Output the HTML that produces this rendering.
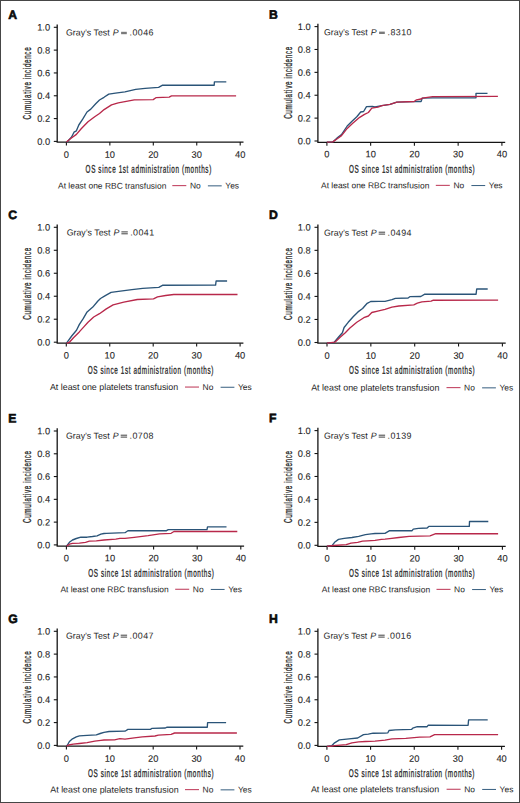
<!DOCTYPE html>
<html><head><meta charset="utf-8"><style>
html,body{margin:0;padding:0;background:#fff;}
body{width:520px;height:803px;overflow:hidden;}
svg{display:block;}
text{font-family:"Liberation Sans",sans-serif;fill:#1f1f1f;}
.let{font-weight:bold;font-size:12.2px;fill:#0a0a0a;stroke:#0a0a0a;stroke-width:0.6px;}
.yl{font-size:9.3px;text-anchor:end;stroke:#1f1f1f;stroke-width:0.1px;}
.xl{font-size:9.3px;text-anchor:middle;stroke:#1f1f1f;stroke-width:0.1px;}
.tt{font-size:11.1px;letter-spacing:1.11px;stroke:#1f1f1f;stroke-width:0.3px;}
.gt{font-size:8.8px;}
.gd{font-size:8.9px;letter-spacing:0.45px;}
.lg{font-size:8.45px;fill:#262626;}
.lp{font-size:8.9px;}
.ax{fill:none;stroke:#141414;stroke-width:1.3;}
.tk{fill:none;stroke:#141414;stroke-width:1.1;}
.ll{fill:none;stroke-width:0.95;}
.cv{fill:none;stroke-width:1.35;stroke-linejoin:round;}
</style></head><body>
<svg width="520" height="803" viewBox="0 0 520 803">
<rect x="0.5" y="0.5" width="519" height="802" fill="#fff" stroke="#464646" stroke-width="1"/>
<text x="8.3" y="18.9" transform="rotate(0.05 8.3 18.9)" class="let">A</text>
<path d="M57.2 24.5V142.1H243.5" class="ax"/>
<path d="M53.8 141.4H57.2" class="tk"/>
<text x="50.1" y="144.7" transform="rotate(0.05 50.1 144.7)" class="yl">0.0</text>
<path d="M53.8 118.58H57.2" class="tk"/>
<text x="50.1" y="121.88" transform="rotate(0.05 50.1 121.88)" class="yl">0.2</text>
<path d="M53.8 95.76H57.2" class="tk"/>
<text x="50.1" y="99.06" transform="rotate(0.05 50.1 99.06)" class="yl">0.4</text>
<path d="M53.8 72.94H57.2" class="tk"/>
<text x="50.1" y="76.24" transform="rotate(0.05 50.1 76.24)" class="yl">0.6</text>
<path d="M53.8 50.12H57.2" class="tk"/>
<text x="50.1" y="53.42" transform="rotate(0.05 50.1 53.42)" class="yl">0.8</text>
<path d="M53.8 27.3H57.2" class="tk"/>
<text x="50.1" y="30.6" transform="rotate(0.05 50.1 30.6)" class="yl">1.0</text>
<path d="M66.4 142.1V145.5" class="tk"/>
<text x="66.4" y="157.7" transform="rotate(0.05 66.4 157.7)" class="xl">0</text>
<path d="M109.85 142.1V145.5" class="tk"/>
<text x="109.85" y="157.7" transform="rotate(0.05 109.85 157.7)" class="xl">10</text>
<path d="M153.3 142.1V145.5" class="tk"/>
<text x="153.3" y="157.7" transform="rotate(0.05 153.3 157.7)" class="xl">20</text>
<path d="M196.75 142.1V145.5" class="tk"/>
<text x="196.75" y="157.7" transform="rotate(0.05 196.75 157.7)" class="xl">30</text>
<path d="M240.2 142.1V145.5" class="tk"/>
<text x="240.2" y="157.7" transform="rotate(0.05 240.2 157.7)" class="xl">40</text>
<text transform="translate(85.6 172.65) rotate(0.05) scale(0.57 1)" class="tt">OS since 1st administration (months)</text>
<text transform="translate(30.9 83.05) rotate(-90) scale(0.57 1)" class="tt" text-anchor="middle">Cumulative incidence</text>
<text x="66" y="35.4" transform="rotate(0.05 66 35.4)" class="gt">Gray’s Test</text>
<text x="112.7" y="35.4" transform="rotate(0.05 112.7 35.4)" class="gt" font-style="italic">P</text>
<rect x="121.1" y="31.8" width="5.7" height="2.4" fill="#7a7a7a"/>
<text x="129.5" y="35.4" transform="rotate(0.05 129.5 35.4)" class="gd">.0046</text>
<text x="58" y="188.6" transform="rotate(0.05 58 188.6)" class="lg">At least one RBC transfusion</text>
<path d="M172.3 185.65h14.0" stroke="#b8284a" class="ll"/>
<text x="189.9" y="188.6" transform="rotate(0.05 189.9 188.6)" class="lg">No</text>
<path d="M207.9 185.85h13.8" stroke="#2a5478" class="ll"/>
<text x="225.3" y="188.6" transform="rotate(0.05 225.3 188.6)" class="lg">Yes</text>
<path d="M66.5 142.1 67.3 141.8 71.6 137 74 132.2 76.4 130.8 78.8 125 82.7 119.2 87 112 90.8 109.1 95.7 103.8 99.5 100 104 97.3 108.8 94.1 115.5 93.2 124.9 91.8 135.7 89.4 145.1 88.3 158.6 87.4 162.6 85.2 214.2 85.2 214.4 81.8 226.3 81.8" stroke="#2a5478" class="cv"/>
<path d="M66.5 142.1 70.7 138.5 76.4 134.4 81.2 128.8 88 121.8 94.7 116.8 99.5 113.5 104.1 109.6 111.5 104.9 118.2 102.9 134.3 99.9 153.2 99.6 155.9 97.7 169.2 97.1 171.5 95.9 236.1 95.9" stroke="#b8284a" class="cv"/>
<text x="269" y="18.8" transform="rotate(0.05 269 18.8)" class="let">B</text>
<path d="M317.9 23.8V142.3H505.2" class="ax"/>
<path d="M314.5 141H317.9" class="tk"/>
<text x="310.8" y="144.3" transform="rotate(0.05 310.8 144.3)" class="yl">0.0</text>
<path d="M314.5 118.12H317.9" class="tk"/>
<text x="310.8" y="121.42" transform="rotate(0.05 310.8 121.42)" class="yl">0.2</text>
<path d="M314.5 95.24H317.9" class="tk"/>
<text x="310.8" y="98.54" transform="rotate(0.05 310.8 98.54)" class="yl">0.4</text>
<path d="M314.5 72.36H317.9" class="tk"/>
<text x="310.8" y="75.66" transform="rotate(0.05 310.8 75.66)" class="yl">0.6</text>
<path d="M314.5 49.48H317.9" class="tk"/>
<text x="310.8" y="52.78" transform="rotate(0.05 310.8 52.78)" class="yl">0.8</text>
<path d="M314.5 26.6H317.9" class="tk"/>
<text x="310.8" y="29.9" transform="rotate(0.05 310.8 29.9)" class="yl">1.0</text>
<path d="M326.9 142.3V145.7" class="tk"/>
<text x="326.9" y="157.3" transform="rotate(0.05 326.9 157.3)" class="xl">0</text>
<path d="M370.65 142.3V145.7" class="tk"/>
<text x="370.65" y="157.3" transform="rotate(0.05 370.65 157.3)" class="xl">10</text>
<path d="M414.4 142.3V145.7" class="tk"/>
<text x="414.4" y="157.3" transform="rotate(0.05 414.4 157.3)" class="xl">20</text>
<path d="M458.15 142.3V145.7" class="tk"/>
<text x="458.15" y="157.3" transform="rotate(0.05 458.15 157.3)" class="xl">30</text>
<path d="M501.9 142.3V145.7" class="tk"/>
<text x="501.9" y="157.3" transform="rotate(0.05 501.9 157.3)" class="xl">40</text>
<text transform="translate(348.9 172.65) rotate(0.05) scale(0.57 1)" class="tt">OS since 1st administration (months)</text>
<text transform="translate(291.6 82.5) rotate(-90) scale(0.57 1)" class="tt" text-anchor="middle">Cumulative incidence</text>
<text x="324" y="35.2" transform="rotate(0.05 324 35.2)" class="gt">Gray’s Test</text>
<text x="370.7" y="35.2" transform="rotate(0.05 370.7 35.2)" class="gt" font-style="italic">P</text>
<rect x="379.1" y="31.6" width="5.7" height="2.4" fill="#7a7a7a"/>
<text x="387.5" y="35.2" transform="rotate(0.05 387.5 35.2)" class="gd">.8310</text>
<text x="321" y="188.3" transform="rotate(0.05 321 188.3)" class="lg">At least one RBC transfusion</text>
<path d="M435.8 185.35h14.0" stroke="#b8284a" class="ll"/>
<text x="453.4" y="188.3" transform="rotate(0.05 453.4 188.3)" class="lg">No</text>
<path d="M471.4 185.55h13.8" stroke="#2a5478" class="ll"/>
<text x="488.8" y="188.3" transform="rotate(0.05 488.8 188.3)" class="lg">Yes</text>
<path d="M326.9 142.2 332.8 141.9 337.6 137.5 341.5 134.6 347.2 126 352 121.2 356.8 116.8 360.7 112 363.6 111.5 366.5 106.7 372.3 106.5 375 107 381.9 105.6 390 104.4 396.9 102.1 414.2 101.6 416.5 101.4 421.1 101.5 422.3 98.1 432.7 97.8 476 97.8 476 93.3 487.5 93.3" stroke="#2a5478" class="cv"/>
<path d="M326.9 142.2 332.8 141.9 337.6 138.5 341.5 135.6 347.2 128.4 353 123.1 359.7 117.3 364.5 114.4 368.4 112.5 371.8 108.2 378 107.2 381.9 105.6 390 104.4 396.9 102.1 414.2 101.5 416.5 99.8 421.1 99 422.3 98.1 432.7 96.6 497.9 96.4" stroke="#b8284a" class="cv"/>
<text x="8.3" y="218.9" transform="rotate(0.05 8.3 218.9)" class="let">C</text>
<path d="M57.2 224.5V343.2H243.4" class="ax"/>
<path d="M53.8 342.2H57.2" class="tk"/>
<text x="50.1" y="345.5" transform="rotate(0.05 50.1 345.5)" class="yl">0.0</text>
<path d="M53.8 319.22H57.2" class="tk"/>
<text x="50.1" y="322.52" transform="rotate(0.05 50.1 322.52)" class="yl">0.2</text>
<path d="M53.8 296.24H57.2" class="tk"/>
<text x="50.1" y="299.54" transform="rotate(0.05 50.1 299.54)" class="yl">0.4</text>
<path d="M53.8 273.26H57.2" class="tk"/>
<text x="50.1" y="276.56" transform="rotate(0.05 50.1 276.56)" class="yl">0.6</text>
<path d="M53.8 250.28H57.2" class="tk"/>
<text x="50.1" y="253.58" transform="rotate(0.05 50.1 253.58)" class="yl">0.8</text>
<path d="M53.8 227.3H57.2" class="tk"/>
<text x="50.1" y="230.6" transform="rotate(0.05 50.1 230.6)" class="yl">1.0</text>
<path d="M66.3 343.2V346.6" class="tk"/>
<text x="66.3" y="358.5" transform="rotate(0.05 66.3 358.5)" class="xl">0</text>
<path d="M109.75 343.2V346.6" class="tk"/>
<text x="109.75" y="358.5" transform="rotate(0.05 109.75 358.5)" class="xl">10</text>
<path d="M153.2 343.2V346.6" class="tk"/>
<text x="153.2" y="358.5" transform="rotate(0.05 153.2 358.5)" class="xl">20</text>
<path d="M196.65 343.2V346.6" class="tk"/>
<text x="196.65" y="358.5" transform="rotate(0.05 196.65 358.5)" class="xl">30</text>
<path d="M240.1 343.2V346.6" class="tk"/>
<text x="240.1" y="358.5" transform="rotate(0.05 240.1 358.5)" class="xl">40</text>
<text transform="translate(87.7 373.75) rotate(0.05) scale(0.57 1)" class="tt">OS since 1st administration (months)</text>
<text transform="translate(30.9 283.45) rotate(-90) scale(0.57 1)" class="tt" text-anchor="middle">Cumulative incidence</text>
<text x="66.7" y="235.4" transform="rotate(0.05 66.7 235.4)" class="gt">Gray’s Test</text>
<text x="113.4" y="235.4" transform="rotate(0.05 113.4 235.4)" class="gt" font-style="italic">P</text>
<path d="M121.4 231.9h6.4M121.4 233.8h6.4" stroke="#1f1f1f" stroke-width="0.85" fill="none"/>
<text x="130.2" y="235.4" transform="rotate(0.05 130.2 235.4)" class="gd">.0041</text>
<text x="49.9" y="390" transform="rotate(0.05 49.9 390)" class="lg lp">At least one platelets transfusion</text>
<path d="M185 387.05h14.0" stroke="#b8284a" class="ll"/>
<text x="202.6" y="390" transform="rotate(0.05 202.6 390)" class="lg">No</text>
<path d="M220.6 387.25h13.8" stroke="#2a5478" class="ll"/>
<text x="238" y="390" transform="rotate(0.05 238 390)" class="lg">Yes</text>
<path d="M66.6 343.1 66.9 342.7 71.7 336 76.5 330.2 79.4 324.4 83.2 318.7 87.1 311.9 92.8 307.1 97.7 301.3 100.5 298.5 105.3 295.6 111.1 292.4 118.5 291.4 131.9 289.7 142.7 288.3 158.8 287.4 162.9 285.2 215.6 285.1 216.1 281 227.1 281" stroke="#2a5478" class="cv"/>
<path d="M66.6 343.1 69.2 342.5 73.5 337.7 79.3 331.9 83.6 327.1 88 322.3 93.7 317 99.5 313.7 106.3 308.9 113.1 304.9 123.8 302.2 137.3 299.5 153.5 298.8 157.5 296.8 165.6 295.5 173.8 294.5 237.5 294.5" stroke="#b8284a" class="cv"/>
<text x="269" y="218.9" transform="rotate(0.05 269 218.9)" class="let">D</text>
<path d="M317.9 224.5V343.2H505.7" class="ax"/>
<path d="M314.5 342.5H317.9" class="tk"/>
<text x="310.8" y="345.8" transform="rotate(0.05 310.8 345.8)" class="yl">0.0</text>
<path d="M314.5 319.46H317.9" class="tk"/>
<text x="310.8" y="322.76" transform="rotate(0.05 310.8 322.76)" class="yl">0.2</text>
<path d="M314.5 296.42H317.9" class="tk"/>
<text x="310.8" y="299.72" transform="rotate(0.05 310.8 299.72)" class="yl">0.4</text>
<path d="M314.5 273.38H317.9" class="tk"/>
<text x="310.8" y="276.68" transform="rotate(0.05 310.8 276.68)" class="yl">0.6</text>
<path d="M314.5 250.34H317.9" class="tk"/>
<text x="310.8" y="253.64" transform="rotate(0.05 310.8 253.64)" class="yl">0.8</text>
<path d="M314.5 227.3H317.9" class="tk"/>
<text x="310.8" y="230.6" transform="rotate(0.05 310.8 230.6)" class="yl">1.0</text>
<path d="M327 343.2V346.6" class="tk"/>
<text x="327" y="358.8" transform="rotate(0.05 327 358.8)" class="xl">0</text>
<path d="M370.85 343.2V346.6" class="tk"/>
<text x="370.85" y="358.8" transform="rotate(0.05 370.85 358.8)" class="xl">10</text>
<path d="M414.7 343.2V346.6" class="tk"/>
<text x="414.7" y="358.8" transform="rotate(0.05 414.7 358.8)" class="xl">20</text>
<path d="M458.55 343.2V346.6" class="tk"/>
<text x="458.55" y="358.8" transform="rotate(0.05 458.55 358.8)" class="xl">30</text>
<path d="M502.4 343.2V346.6" class="tk"/>
<text x="502.4" y="358.8" transform="rotate(0.05 502.4 358.8)" class="xl">40</text>
<text transform="translate(349 373.75) rotate(0.05) scale(0.57 1)" class="tt">OS since 1st administration (months)</text>
<text transform="translate(291.6 283.6) rotate(-90) scale(0.57 1)" class="tt" text-anchor="middle">Cumulative incidence</text>
<text x="324" y="235.7" transform="rotate(0.05 324 235.7)" class="gt">Gray’s Test</text>
<text x="370.7" y="235.7" transform="rotate(0.05 370.7 235.7)" class="gt" font-style="italic">P</text>
<path d="M378.7 232.2h6.4M378.7 234.1h6.4" stroke="#1f1f1f" stroke-width="0.85" fill="none"/>
<text x="387.5" y="235.7" transform="rotate(0.05 387.5 235.7)" class="gd">.0494</text>
<text x="311.2" y="390.6" transform="rotate(0.05 311.2 390.6)" class="lg lp">At least one platelets transfusion</text>
<path d="M446.5 387.65h14.0" stroke="#b8284a" class="ll"/>
<text x="464.1" y="390.6" transform="rotate(0.05 464.1 390.6)" class="lg">No</text>
<path d="M482.1 387.85h13.8" stroke="#2a5478" class="ll"/>
<text x="499.5" y="390.6" transform="rotate(0.05 499.5 390.6)" class="lg">Yes</text>
<path d="M326.9 343.1 333.8 342.6 338.4 337.3 342.4 332.7 344.1 327.5 348.2 322.3 353.4 316.5 358 311.9 362.6 308.5 367.2 303.3 370.7 301.5 378.7 301.3 385 301.3 391.9 299.7 395.4 298.3 408.1 298 409.8 296.7 420.8 296.5 424.8 294.2 476.1 294.2 476.7 289 487.7 289" stroke="#2a5478" class="cv"/>
<path d="M326.9 343.1 334.9 342.2 340.7 336.7 345.3 332.7 349.9 328.1 356.8 322.3 363.8 317.7 368.4 316 371.8 312.5 378.7 310.8 385 309.4 391.9 307.1 398.8 306 413.8 304.8 417.3 303.1 421.9 301.8 431.1 301.2 433.4 300.2 498.1 300.1" stroke="#b8284a" class="cv"/>
<text x="8.3" y="422.6" transform="rotate(0.05 8.3 422.6)" class="let">E</text>
<path d="M57.2 428.2V546.1H244.1" class="ax"/>
<path d="M53.8 544.9H57.2" class="tk"/>
<text x="50.1" y="548.2" transform="rotate(0.05 50.1 548.2)" class="yl">0.0</text>
<path d="M53.8 522.12H57.2" class="tk"/>
<text x="50.1" y="525.42" transform="rotate(0.05 50.1 525.42)" class="yl">0.2</text>
<path d="M53.8 499.34H57.2" class="tk"/>
<text x="50.1" y="502.64" transform="rotate(0.05 50.1 502.64)" class="yl">0.4</text>
<path d="M53.8 476.56H57.2" class="tk"/>
<text x="50.1" y="479.86" transform="rotate(0.05 50.1 479.86)" class="yl">0.6</text>
<path d="M53.8 453.78H57.2" class="tk"/>
<text x="50.1" y="457.08" transform="rotate(0.05 50.1 457.08)" class="yl">0.8</text>
<path d="M53.8 431H57.2" class="tk"/>
<text x="50.1" y="434.3" transform="rotate(0.05 50.1 434.3)" class="yl">1.0</text>
<path d="M66.4 546.1V549.5" class="tk"/>
<text x="66.4" y="561.2" transform="rotate(0.05 66.4 561.2)" class="xl">0</text>
<path d="M110 546.1V549.5" class="tk"/>
<text x="110" y="561.2" transform="rotate(0.05 110 561.2)" class="xl">10</text>
<path d="M153.6 546.1V549.5" class="tk"/>
<text x="153.6" y="561.2" transform="rotate(0.05 153.6 561.2)" class="xl">20</text>
<path d="M197.2 546.1V549.5" class="tk"/>
<text x="197.2" y="561.2" transform="rotate(0.05 197.2 561.2)" class="xl">30</text>
<path d="M240.8 546.1V549.5" class="tk"/>
<text x="240.8" y="561.2" transform="rotate(0.05 240.8 561.2)" class="xl">40</text>
<text transform="translate(88.2 576.65) rotate(0.05) scale(0.57 1)" class="tt">OS since 1st administration (months)</text>
<text transform="translate(30.9 486.65) rotate(-90) scale(0.57 1)" class="tt" text-anchor="middle">Cumulative incidence</text>
<text x="66" y="438.7" transform="rotate(0.05 66 438.7)" class="gt">Gray’s Test</text>
<text x="112.7" y="438.7" transform="rotate(0.05 112.7 438.7)" class="gt" font-style="italic">P</text>
<path d="M120.7 435.2h6.4M120.7 437.1h6.4" stroke="#1f1f1f" stroke-width="0.85" fill="none"/>
<text x="129.5" y="438.7" transform="rotate(0.05 129.5 438.7)" class="gd">.0708</text>
<text x="60.4" y="592.2" transform="rotate(0.05 60.4 592.2)" class="lg">At least one RBC transfusion</text>
<path d="M175.2 589.25h14.0" stroke="#b8284a" class="ll"/>
<text x="192.8" y="592.2" transform="rotate(0.05 192.8 592.2)" class="lg">No</text>
<path d="M210.8 589.45h13.8" stroke="#2a5478" class="ll"/>
<text x="228.2" y="592.2" transform="rotate(0.05 228.2 592.2)" class="lg">Yes</text>
<path d="M66.6 546.1 67.1 545.4 69.4 542.3 72.5 540 76.3 538.5 80.9 537.2 87.1 537.2 92.5 536.5 97.1 535.8 100.9 534.2 104 533.5 106.4 533.3 125 532.7 127.9 530.7 166.5 530.7 168.3 529.6 207 529.6 207.5 526.9 226.5 526.9" stroke="#2a5478" class="cv"/>
<path d="M66.6 546.1 69.4 544.2 72.5 543.3 79.4 543.1 85.5 542.3 89.4 541.2 96.3 540.8 104 540 115.8 539.2 119.9 538.3 125 538.3 134.2 537.3 148.1 535.6 159.6 533.9 171.1 533.3 174 531.5 237.3 531.5" stroke="#b8284a" class="cv"/>
<text x="269" y="422.2" transform="rotate(0.05 269 422.2)" class="let">F</text>
<path d="M317.9 427.8V546.3H505.7" class="ax"/>
<path d="M314.5 545.3H317.9" class="tk"/>
<text x="310.8" y="548.6" transform="rotate(0.05 310.8 548.6)" class="yl">0.0</text>
<path d="M314.5 522.36H317.9" class="tk"/>
<text x="310.8" y="525.66" transform="rotate(0.05 310.8 525.66)" class="yl">0.2</text>
<path d="M314.5 499.42H317.9" class="tk"/>
<text x="310.8" y="502.72" transform="rotate(0.05 310.8 502.72)" class="yl">0.4</text>
<path d="M314.5 476.48H317.9" class="tk"/>
<text x="310.8" y="479.78" transform="rotate(0.05 310.8 479.78)" class="yl">0.6</text>
<path d="M314.5 453.54H317.9" class="tk"/>
<text x="310.8" y="456.84" transform="rotate(0.05 310.8 456.84)" class="yl">0.8</text>
<path d="M314.5 430.6H317.9" class="tk"/>
<text x="310.8" y="433.9" transform="rotate(0.05 310.8 433.9)" class="yl">1.0</text>
<path d="M327.1 546.3V549.7" class="tk"/>
<text x="327.1" y="561.6" transform="rotate(0.05 327.1 561.6)" class="xl">0</text>
<path d="M370.93 546.3V549.7" class="tk"/>
<text x="370.93" y="561.6" transform="rotate(0.05 370.93 561.6)" class="xl">10</text>
<path d="M414.75 546.3V549.7" class="tk"/>
<text x="414.75" y="561.6" transform="rotate(0.05 414.75 561.6)" class="xl">20</text>
<path d="M458.57 546.3V549.7" class="tk"/>
<text x="458.57" y="561.6" transform="rotate(0.05 458.57 561.6)" class="xl">30</text>
<path d="M502.4 546.3V549.7" class="tk"/>
<text x="502.4" y="561.6" transform="rotate(0.05 502.4 561.6)" class="xl">40</text>
<text transform="translate(349 576.65) rotate(0.05) scale(0.57 1)" class="tt">OS since 1st administration (months)</text>
<text transform="translate(291.6 486.65) rotate(-90) scale(0.57 1)" class="tt" text-anchor="middle">Cumulative incidence</text>
<text x="324" y="438.7" transform="rotate(0.05 324 438.7)" class="gt">Gray’s Test</text>
<text x="370.7" y="438.7" transform="rotate(0.05 370.7 438.7)" class="gt" font-style="italic">P</text>
<path d="M378.7 435.2h6.4M378.7 437.1h6.4" stroke="#1f1f1f" stroke-width="0.85" fill="none"/>
<text x="387.5" y="438.7" transform="rotate(0.05 387.5 438.7)" class="gd">.0139</text>
<text x="321.8" y="592.3" transform="rotate(0.05 321.8 592.3)" class="lg">At least one RBC transfusion</text>
<path d="M436.5 589.35h14.0" stroke="#b8284a" class="ll"/>
<text x="454.1" y="592.3" transform="rotate(0.05 454.1 592.3)" class="lg">No</text>
<path d="M472.1 589.55h13.8" stroke="#2a5478" class="ll"/>
<text x="489.5" y="592.3" transform="rotate(0.05 489.5 592.3)" class="lg">Yes</text>
<path d="M326.9 546.2 332.2 545.3 334.6 542.3 338.5 539.4 344.2 538.3 351.9 537.5 358.7 536.3 365.4 534.6 371.2 533.8 375 533.5 385 533.4 389.6 530.7 412.1 530.7 413.3 529.1 418.4 528.4 427.1 528 428.8 526.4 469.3 526.4 469.5 521.5 488.3 521.5" stroke="#2a5478" class="cv"/>
<path d="M326.9 546.2 333.7 545.5 346.2 544.7 351 543.1 357.7 542.3 362.5 541.2 367.3 540.9 375 540.4 381.5 539.4 385 539.2 389.6 538.6 398.8 537.5 409.2 536.3 430 535.8 435.8 533.7 498.1 533.7" stroke="#b8284a" class="cv"/>
<text x="8.3" y="622.9" transform="rotate(0.05 8.3 622.9)" class="let">G</text>
<path d="M57.2 628.5V746.2H243.3" class="ax"/>
<path d="M53.8 745.4H57.2" class="tk"/>
<text x="50.1" y="748.7" transform="rotate(0.05 50.1 748.7)" class="yl">0.0</text>
<path d="M53.8 722.58H57.2" class="tk"/>
<text x="50.1" y="725.88" transform="rotate(0.05 50.1 725.88)" class="yl">0.2</text>
<path d="M53.8 699.76H57.2" class="tk"/>
<text x="50.1" y="703.06" transform="rotate(0.05 50.1 703.06)" class="yl">0.4</text>
<path d="M53.8 676.94H57.2" class="tk"/>
<text x="50.1" y="680.24" transform="rotate(0.05 50.1 680.24)" class="yl">0.6</text>
<path d="M53.8 654.12H57.2" class="tk"/>
<text x="50.1" y="657.42" transform="rotate(0.05 50.1 657.42)" class="yl">0.8</text>
<path d="M53.8 631.3H57.2" class="tk"/>
<text x="50.1" y="634.6" transform="rotate(0.05 50.1 634.6)" class="yl">1.0</text>
<path d="M66.4 746.2V749.6" class="tk"/>
<text x="66.4" y="761.7" transform="rotate(0.05 66.4 761.7)" class="xl">0</text>
<path d="M109.8 746.2V749.6" class="tk"/>
<text x="109.8" y="761.7" transform="rotate(0.05 109.8 761.7)" class="xl">10</text>
<path d="M153.2 746.2V749.6" class="tk"/>
<text x="153.2" y="761.7" transform="rotate(0.05 153.2 761.7)" class="xl">20</text>
<path d="M196.6 746.2V749.6" class="tk"/>
<text x="196.6" y="761.7" transform="rotate(0.05 196.6 761.7)" class="xl">30</text>
<path d="M240 746.2V749.6" class="tk"/>
<text x="240" y="761.7" transform="rotate(0.05 240 761.7)" class="xl">40</text>
<text transform="translate(87.9 776.95) rotate(0.05) scale(0.57 1)" class="tt">OS since 1st administration (months)</text>
<text transform="translate(30.9 687.05) rotate(-90) scale(0.57 1)" class="tt" text-anchor="middle">Cumulative incidence</text>
<text x="66" y="638.7" transform="rotate(0.05 66 638.7)" class="gt">Gray’s Test</text>
<text x="112.7" y="638.7" transform="rotate(0.05 112.7 638.7)" class="gt" font-style="italic">P</text>
<path d="M120.7 635.2h6.4M120.7 637.1h6.4" stroke="#1f1f1f" stroke-width="0.85" fill="none"/>
<text x="129.5" y="638.7" transform="rotate(0.05 129.5 638.7)" class="gd">.0047</text>
<text x="50.3" y="792.6" transform="rotate(0.05 50.3 792.6)" class="lg lp">At least one platelets transfusion</text>
<path d="M185 789.65h14.0" stroke="#b8284a" class="ll"/>
<text x="202.6" y="792.6" transform="rotate(0.05 202.6 792.6)" class="lg">No</text>
<path d="M220.6 789.85h13.8" stroke="#2a5478" class="ll"/>
<text x="238" y="792.6" transform="rotate(0.05 238 792.6)" class="lg">Yes</text>
<path d="M66.6 746.2 67.5 745 69.4 741.5 72.5 738.8 76.3 736.9 79.4 735.9 87.1 735.4 96.3 734.8 100.2 733.5 104 732.3 109.1 731.5 125 731.2 127.9 729.4 150.4 729.4 152.1 728.3 165.4 728 167.1 727.2 207.3 727.2 207.6 722.6 226.1 722.6" stroke="#2a5478" class="cv"/>
<path d="M66.6 746.2 68.6 745 73.2 744.2 79.4 743.5 87.1 742.7 94.8 741.2 100.9 740.4 104 740 114.5 739.9 119.9 738.7 125 739.1 134.2 737.8 142.3 736.9 155 736 158.4 735.2 171.1 734.4 174.6 733 236.9 733" stroke="#b8284a" class="cv"/>
<text x="269" y="622.9" transform="rotate(0.05 269 622.9)" class="let">H</text>
<path d="M317.9 628.5V746.3H504.9" class="ax"/>
<path d="M314.5 745.4H317.9" class="tk"/>
<text x="310.8" y="748.7" transform="rotate(0.05 310.8 748.7)" class="yl">0.0</text>
<path d="M314.5 722.58H317.9" class="tk"/>
<text x="310.8" y="725.88" transform="rotate(0.05 310.8 725.88)" class="yl">0.2</text>
<path d="M314.5 699.76H317.9" class="tk"/>
<text x="310.8" y="703.06" transform="rotate(0.05 310.8 703.06)" class="yl">0.4</text>
<path d="M314.5 676.94H317.9" class="tk"/>
<text x="310.8" y="680.24" transform="rotate(0.05 310.8 680.24)" class="yl">0.6</text>
<path d="M314.5 654.12H317.9" class="tk"/>
<text x="310.8" y="657.42" transform="rotate(0.05 310.8 657.42)" class="yl">0.8</text>
<path d="M314.5 631.3H317.9" class="tk"/>
<text x="310.8" y="634.6" transform="rotate(0.05 310.8 634.6)" class="yl">1.0</text>
<path d="M326.9 746.3V749.7" class="tk"/>
<text x="326.9" y="761.7" transform="rotate(0.05 326.9 761.7)" class="xl">0</text>
<path d="M370.57 746.3V749.7" class="tk"/>
<text x="370.57" y="761.7" transform="rotate(0.05 370.57 761.7)" class="xl">10</text>
<path d="M414.25 746.3V749.7" class="tk"/>
<text x="414.25" y="761.7" transform="rotate(0.05 414.25 761.7)" class="xl">20</text>
<path d="M457.93 746.3V749.7" class="tk"/>
<text x="457.93" y="761.7" transform="rotate(0.05 457.93 761.7)" class="xl">30</text>
<path d="M501.6 746.3V749.7" class="tk"/>
<text x="501.6" y="761.7" transform="rotate(0.05 501.6 761.7)" class="xl">40</text>
<text transform="translate(348.8 776.95) rotate(0.05) scale(0.57 1)" class="tt">OS since 1st administration (months)</text>
<text transform="translate(291.6 687.05) rotate(-90) scale(0.57 1)" class="tt" text-anchor="middle">Cumulative incidence</text>
<text x="323.6" y="638.7" transform="rotate(0.05 323.6 638.7)" class="gt">Gray’s Test</text>
<text x="370.3" y="638.7" transform="rotate(0.05 370.3 638.7)" class="gt" font-style="italic">P</text>
<path d="M378.3 635.2h6.4M378.3 637.1h6.4" stroke="#1f1f1f" stroke-width="0.85" fill="none"/>
<text x="387.1" y="638.7" transform="rotate(0.05 387.1 638.7)" class="gd">.0016</text>
<text x="310.9" y="792.2" transform="rotate(0.05 310.9 792.2)" class="lg lp">At least one platelets transfusion</text>
<path d="M446.6 789.25h14.0" stroke="#b8284a" class="ll"/>
<text x="464.2" y="792.2" transform="rotate(0.05 464.2 792.2)" class="lg">No</text>
<path d="M482.2 789.45h13.8" stroke="#2a5478" class="ll"/>
<text x="499.6" y="792.2" transform="rotate(0.05 499.6 792.2)" class="lg">Yes</text>
<path d="M326.9 746.3 331.7 745.7 334.6 742.8 339.4 739.9 349 738.9 357.7 738 363.5 734.6 368.3 734.1 373.1 733.2 385 733.1 387.9 732.8 389 730.5 395.4 729.8 411.5 729.4 412.7 728.2 417.3 726.7 427.1 726.7 428.3 725.2 468.1 725.3 468.6 719.8 487.7 719.8" stroke="#2a5478" class="cv"/>
<path d="M326.9 746.3 332.1 746 334.6 745.7 346.2 744.7 351.9 742.8 358.7 741.8 365.4 741.5 375 741.2 385 740.2 391.9 738.8 405.8 738.3 419.6 737.1 430 736.8 434.6 734.6 498.1 734.6" stroke="#b8284a" class="cv"/>
</svg>
</body></html>
